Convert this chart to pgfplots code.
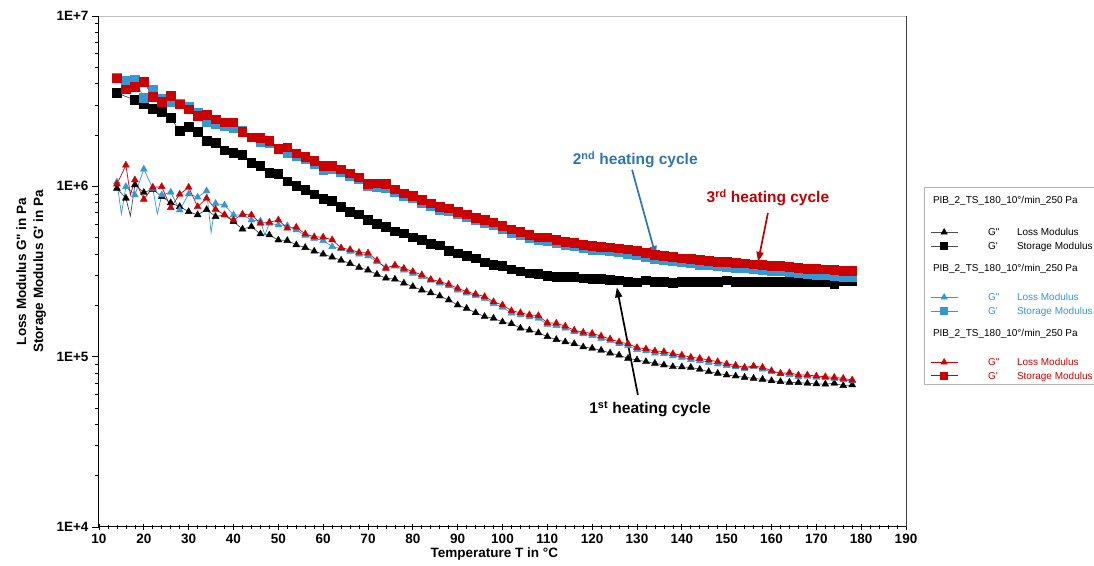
\documentclass[border=0pt]{standalone}
\usepackage{pgfplots}
\pgfplotsset{compat=1.18}
\usepackage{pgfplotstable}
\usepackage{fontspec}
\setmainfont{Liberation Sans}
\usetikzlibrary{arrows.meta}
\definecolor{mblue}{RGB}{52,152,212}
\definecolor{tblue}{RGB}{46,117,182}
\definecolor{mred}{RGB}{204,0,0}
\definecolor{tred}{RGB}{192,0,0}
\newcommand{\es}{\rule[-3.5pt]{0pt}{14pt}}
\newcommand{\esl}{\rule[-2pt]{0pt}{12.5pt}}
\newcommand{\hsA}{\rule[-21.5pt]{0pt}{36pt}}
\newcommand{\hsB}{\rule[-19pt]{0pt}{37pt}}

% storage modulus G' : T, cycle1 (black), cycle2 (blue), cycle3 (red)
\pgfplotstableread{
T K B R
14 3.53e6 4.36e6 4.31e6
16 nan 4.17e6 3.71e6
18 3.21e6 4.21e6 3.85e6
20 3.04e6 3.31e6 4.11e6
22 2.84e6 3.71e6 3.36e6
24 2.73e6 3.26e6 3.14e6
26 2.52e6 3.14e6 3.39e6
28 2.11e6 3.07e6 3.03e6
30 2.23e6 2.94e6 2.83e6
32 2.08e6 2.71e6 2.59e6
34 1.85e6 2.39e6 2.62e6
36 1.80e6 2.31e6 2.47e6
38 1.63e6 2.27e6 2.38e6
40 1.57e6 2.19e6 2.38e6
42 1.53e6 2.11e6 2.09e6
44 1.37e6 1.94e6 1.94e6
46 1.32e6 1.83e6 1.92e6
48 1.20e6 1.80e6 1.85e6
50 1.18e6 1.65e6 1.66e6
52 1.07e6 1.57e6 1.69e6
54 1.01e6 1.50e6 1.56e6
56 9.53e5 1.45e6 1.49e6
58 8.98e5 1.36e6 1.41e6
60 8.43e5 1.25e6 1.32e6
62 8.21e5 1.26e6 1.32e6
64 7.59e5 1.22e6 1.26e6
66 7.10e5 1.15e6 1.19e6
68 6.85e5 1.10e6 1.13e6
70 6.34e5 1.00e6 1.03e6
72 6.01e5 9.90e5 1.04e6
74 5.80e5 9.80e5 1.03e6
76 5.45e5 9.30e5 9.62e5
78 5.30e5 8.80e5 9.10e5
80 5.02e5 8.50e5 8.78e5
82 4.84e5 8.00e5 8.32e5
84 4.59e5 7.70e5 7.95e5
86 4.51e5 7.30e5 7.59e5
88 4.19e5 7.15e5 7.43e5
90 4.05e5 6.85e5 7.10e5
92 3.92e5 6.60e5 6.85e5
94 3.78e5 6.30e5 6.55e5
96 3.58e5 6.10e5 6.34e5
98 3.45e5 5.90e5 6.13e5
100 3.40e5 5.60e5 5.85e5
102 3.26e5 5.35e5 5.59e5
104 3.16e5 5.20e5 5.42e5
106 3.09e5 4.98e5 5.18e5
108 3.06e5 4.82e5 5.02e5
110 2.98e5 4.78e5 5.02e5
112 2.95e5 4.62e5 4.84e5
114 2.95e5 4.52e5 4.73e5
116 2.93e5 4.45e5 4.67e5
118 2.89e5 4.32e5 4.53e5
120 2.87e5 4.25e5 4.47e5
122 2.87e5 4.20e5 4.43e5
124 2.82e5 4.15e5 4.39e5
126 2.80e5 4.10e5 4.33e5
128 2.76e5 4.03e5 4.27e5
130 2.73e5 3.95e5 4.19e5
132 2.80e5 3.85e5 4.08e5
134 2.74e5 3.73e5 3.95e5
136 2.74e5 3.68e5 3.90e5
138 2.72e5 3.65e5 3.84e5
140 2.76e5 3.57e5 3.78e5
142 2.75e5 3.53e5 3.74e5
144 2.74e5 3.47e5 3.69e5
146 2.75e5 3.43e5 3.66e5
148 2.75e5 3.39e5 3.61e5
150 2.80e5 3.38e5 3.61e5
152 2.75e5 3.33e5 3.56e5
154 2.74e5 3.30e5 3.53e5
156 2.75e5 3.25e5 3.49e5
158 2.76e5 3.21e5 3.45e5
160 2.75e5 3.18e5 3.42e5
162 2.74e5 3.16e5 3.42e5
164 2.75e5 3.12e5 3.37e5
166 2.75e5 3.08e5 3.33e5
168 2.74e5 3.04e5 3.28e5
170 2.75e5 3.03e5 3.28e5
172 2.74e5 3.00e5 3.26e5
174 2.67e5 2.98e5 3.23e5
176 2.77e5 2.95e5 3.20e5
178 2.77e5 2.94e5 3.18e5
}\gp

% loss modulus G'' : M=1 rows carry a symbol, M=0 rows are line-only points
\pgfplotstableread{
T K B R M
14 9.73e5 1.06e6 1.03e6 1
15 nan 6.88e5 nan 0
16 8.51e5 9.95e5 1.33e6 1
17 6.70e5 nan 8.90e5 0
18 1.02e6 8.90e5 1.09e6 1
20 9.20e5 1.26e6 8.39e5 1
22 9.60e5 9.73e5 9.87e5 1
23 nan 6.88e5 nan 0
24 8.70e5 8.90e5 9.95e5 1
26 8.00e5 9.23e5 7.50e5 1
28 7.60e5 7.26e5 8.98e5 1
30 7.10e5 9.02e5 9.87e5 1
32 6.80e5 8.63e5 7.59e5 1
34 7.30e5 9.40e5 8.51e5 1
35 nan 5.35e5 nan 0
36 6.64e5 7.94e5 7.33e5 1
38 6.79e5 7.76e5 6.79e5 1
40 6.20e5 6.79e5 6.34e5 1
42 5.61e5 6.79e5 6.85e5 1
44 5.80e5 6.34e5 6.79e5 1
46 5.25e5 6.25e5 6.07e5 1
47 nan 5.18e5 nan 0
48 5.18e5 6.07e5 6.15e5 1
50 4.84e5 5.93e5 6.34e5 1
52 4.80e5 5.87e5 5.68e5 1
54 4.53e5 5.55e5 5.75e5 1
56 4.37e5 5.15e5 5.25e5 1
58 4.16e5 4.95e5 5.05e5 1
60 4.00e5 4.80e5 5.03e5 1
62 3.84e5 4.43e5 4.85e5 1
64 3.68e5 4.30e5 4.35e5 1
66 3.52e5 4.15e5 4.25e5 1
68 3.34e5 4.00e5 4.09e5 1
70 3.22e5 3.90e5 4.06e5 1
72 3.04e5 3.60e5 3.67e5 1
74 2.89e5 3.35e5 3.30e5 1
76 2.85e5 3.40e5 3.45e5 1
78 2.70e5 3.22e5 3.30e5 1
80 2.58e5 3.08e5 3.16e5 1
82 2.46e5 2.95e5 3.02e5 1
84 2.37e5 2.80e5 2.84e5 1
86 2.27e5 2.70e5 2.76e5 1
88 2.15e5 2.60e5 2.66e5 1
90 2.01e5 2.46e5 2.52e5 1
92 1.92e5 2.36e5 2.41e5 1
94 1.81e5 2.28e5 2.33e5 1
96 1.72e5 2.20e5 2.25e5 1
98 1.68e5 2.05e5 2.10e5 1
100 1.60e5 1.95e5 2.01e5 1
102 1.56e5 1.80e5 1.86e5 1
104 1.47e5 1.76e5 1.81e5 1
106 1.43e5 1.71e5 1.76e5 1
108 1.38e5 1.68e5 1.74e5 1
110 1.31e5 1.54e5 1.58e5 1
112 1.26e5 1.52e5 1.57e5 1
114 1.22e5 1.47e5 1.51e5 1
116 1.19e5 1.40e5 1.43e5 1
118 1.14e5 1.36e5 1.39e5 1
120 1.12e5 1.33e5 1.37e5 1
122 1.09e5 1.28e5 1.32e5 1
124 1.05e5 1.24e5 1.27e5 1
126 1.02e5 1.19e5 1.22e5 1
128 9.78e4 1.16e5 1.19e5 1
130 9.56e4 1.10e5 1.13e5 1
132 9.34e4 1.08e5 1.11e5 1
134 9.14e4 1.05e5 1.08e5 1
136 8.93e4 1.04e5 1.07e5 1
138 8.73e4 1.01e5 1.04e5 1
140 8.70e4 9.90e4 1.02e5 1
142 8.65e4 9.60e4 9.92e4 1
144 8.43e4 9.45e4 9.78e4 1
146 8.16e4 9.25e4 9.56e4 1
148 7.98e4 9.05e4 9.34e4 1
150 7.80e4 8.85e4 9.06e4 1
152 7.70e4 8.70e4 8.89e4 1
154 7.56e4 8.50e4 8.65e4 1
156 7.46e4 8.75e4 8.81e4 1
158 7.36e4 8.45e4 8.65e4 1
160 7.22e4 8.15e4 8.27e4 1
162 7.13e4 7.95e4 7.98e4 1
164 7.07e4 7.85e4 8.05e4 1
166 7.04e4 7.60e4 7.80e4 1
168 6.98e4 7.65e4 7.80e4 1
170 6.92e4 7.55e4 7.70e4 1
172 6.89e4 7.50e4 7.62e4 1
174 6.98e4 7.45e4 7.56e4 1
176 6.76e4 7.30e4 7.46e4 1
178 6.82e4 7.20e4 7.29e4 1
}\gpp

\begin{document}
\begin{tikzpicture}
\useasboundingbox (-99pt,-38pt) rectangle (995pt,527pt);
\begin{axis}[
  scale only axis, width=807pt, height=511pt,
  ymode=log, xmin=10, xmax=190, ymin=1e4, ymax=1e7,
  axis lines=left, axis line style={-, line width=1pt, black},
  xtick={10,20,...,190}, minor x tick num=4,
  ytick={1e4,1e5,1e6,1e7}, yticklabels={1E+4,1E+5,1E+6,1E+7},
  minor ytick={2e4,3e4,4e4,5e4,6e4,7e4,8e4,9e4,2e5,3e5,4e5,5e5,6e5,7e5,8e5,9e5,2e6,3e6,4e6,5e6,6e6,7e6,8e6,9e6},
  xtick align=center, ytick align=outside,
  major tick length=7pt, minor tick length=4pt,
  tick style={black, line width=0.7pt},
  tick label style={font=\bfseries\fontsize{13.5}{16}\selectfont},
  /pgf/number format/assume math mode=true,
  xlabel={Temperature T in °C},
  xlabel style={font=\bfseries\fontsize{13.5}{16}\selectfont, at={(axis description cs:0.49,-0.053)}, anchor=center},
  ylabel={Loss Modulus G\textquotedbl{} in Pa\\Storage Modulus G\textquotesingle{} in Pa},
  ylabel style={font=\bfseries\fontsize{13.5}{17}\selectfont, align=center, at={(axis description cs:-0.084,0.5)}, anchor=center},
  legend image code/.code={\draw[mark repeat=2,mark phase=2] plot coordinates {(0pt,0pt) (13.5pt,0pt) (27pt,0pt)};},
  legend style={at={(1.0223,0.6654)}, anchor=north west, draw=gray!60, line width=0.6pt, fill=white,
    font=\fontsize{10}{12}\selectfont, inner xsep=6pt, inner ysep=2pt, row sep=0pt, column sep=30pt,
    nodes={inner sep=0pt, text depth=, text height=}},
  legend cell align=left,
  clip=false,
]
% ---- cycle 1 (black)
\addplot[forget plot, black!70, line width=0.7pt, no markers] table[x=T,y=K]{\gpp};
\addplot[forget plot, only marks, mark=triangle*, mark size=4pt, mark options={fill=black,draw=black},
  restrict expr to domain={\thisrow{M}}{0.5:1.5}] table[x=T,y=K]{\gpp};
\addplot[forget plot, black!70, line width=0.7pt, mark=square*, mark size=4.3pt, mark options={fill=black,draw=black}] table[x=T,y=K]{\gp};
% ---- cycle 2 (blue)
\addplot[forget plot, mblue, line width=0.7pt, no markers] table[x=T,y=B]{\gpp};
\addplot[forget plot, only marks, mark=triangle*, mark size=4pt, mark options={fill=mblue,draw=mblue},
  restrict expr to domain={\thisrow{M}}{0.5:1.5}] table[x=T,y=B]{\gpp};
\addplot[forget plot, mblue, line width=0.7pt, mark=square*, mark size=4.3pt, mark options={fill=mblue,draw=mblue}] table[x=T,y=B]{\gp};
% ---- cycle 3 (red)
\addplot[forget plot, mred, line width=0.7pt, no markers] table[x=T,y=R]{\gpp};
\addplot[forget plot, only marks, mark=triangle*, mark size=4pt, mark options={fill=mred,draw=mred},
  restrict expr to domain={\thisrow{M}}{0.5:1.5}] table[x=T,y=R]{\gpp};
\addplot[forget plot, mred, line width=0.7pt, mark=square*, mark size=4.3pt, mark options={fill=mred,draw=mred}] table[x=T,y=R]{\gp};

% ---- legend
\addlegendimage{empty legend}
\addlegendentry{\hsA\hspace*{-55pt}PIB\_2\_TS\_180\_10°/min\_250 Pa}
\addlegendimage{black!70, line width=0.7pt, mark=triangle*, mark size=3.5pt, mark options={fill=black,draw=black}}
\addlegendentry{\es\makebox[29pt][l]{G\textquotedbl}Loss Modulus}
\addlegendimage{black!70, line width=0.7pt, mark=square*, mark size=3.5pt, mark options={fill=black,draw=black}}
\addlegendentry{\es\makebox[29pt][l]{G\textquotesingle}Storage Modulus\hspace*{6pt}}
\addlegendimage{empty legend}
\addlegendentry{\hsB\hspace*{-55pt}PIB\_2\_TS\_180\_10°/min\_250 Pa}
\addlegendimage{mblue, line width=0.7pt, mark=triangle*, mark size=3.5pt, mark options={fill=mblue,draw=mblue}}
\addlegendentry{\es\textcolor{mblue}{\makebox[29pt][l]{G\textquotedbl}Loss Modulus}}
\addlegendimage{mblue, line width=0.7pt, mark=square*, mark size=3.5pt, mark options={fill=mblue,draw=mblue}}
\addlegendentry{\es\textcolor{mblue}{\makebox[29pt][l]{G\textquotesingle}Storage Modulus}\hspace*{6pt}}
\addlegendimage{empty legend}
\addlegendentry{\hsB\hspace*{-55pt}PIB\_2\_TS\_180\_10°/min\_250 Pa}
\addlegendimage{mred, line width=0.7pt, mark=triangle*, mark size=3.5pt, mark options={fill=mred,draw=mred}}
\addlegendentry{\es\textcolor{mred}{\makebox[29pt][l]{G\textquotedbl}Loss Modulus}}
\addlegendimage{mred, line width=0.7pt, mark=square*, mark size=3.5pt, mark options={fill=mred,draw=mred}}
\addlegendentry{\esl\textcolor{mred}{\makebox[29pt][l]{G\textquotesingle}Storage Modulus}\hspace*{6pt}}

% ---- frame on top and right
\draw[gray!50, line width=0.8pt] (rel axis cs:0,1) -- (rel axis cs:1,1);
\draw[black!75, line width=0.8pt] (rel axis cs:1,0) -- (rel axis cs:1,1);

% ---- annotations
\node[font=\bfseries\fontsize{15.5}{18}\selectfont, text=tblue] at (axis cs:129.6,1.43e6) {2\textsuperscript{nd} heating cycle};
\draw[-{Triangle[length=10pt,width=7pt]}, line width=1.7pt, tblue] (axis cs:128.9,1.25e6) -- (axis cs:134.2,3.9e5);
\node[font=\bfseries\fontsize{15.5}{18}\selectfont, text=tred] at (axis cs:159.2,8.53e5) {3\textsuperscript{rd} heating cycle};
\draw[-{Triangle[length=10pt,width=7pt]}, line width=1.7pt, tred] (axis cs:159.2,6.97e5) -- (axis cs:157.0,3.6e5);
\node[font=\bfseries\fontsize{15.5}{18}\selectfont, text=black] at (axis cs:132.9,4.93e4) {1\textsuperscript{st} heating cycle};
\draw[-{Triangle[length=10pt,width=7pt]}, line width=1.7pt, black] (axis cs:130.2,5.96e4) -- (axis cs:125.5,2.55e5);
\end{axis}
\end{tikzpicture}
\end{document}
